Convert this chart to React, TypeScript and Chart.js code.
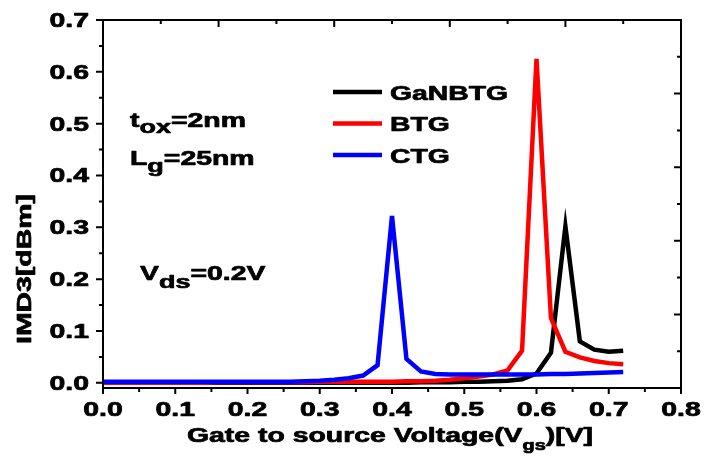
import React, { useEffect, useRef } from 'react';
import { Chart, registerables } from 'chart.js';
Chart.register(...registerables);

const voltages = [0, 0.02, 0.04, 0.06, 0.08, 0.1, 0.12, 0.14, 0.16, 0.18, 0.2, 0.22, 0.24, 0.26, 0.28, 0.3, 0.32, 0.34, 0.36, 0.38, 0.4, 0.42, 0.44, 0.46, 0.48, 0.5, 0.52, 0.54, 0.56, 0.58, 0.6, 0.62, 0.64, 0.66, 0.68, 0.7, 0.72];
const ganbtg = [0, 0, 0, 0, 0, 0, 0, 0, 0, 0, 0, 0, 0, 0, 0, 0, 0, 0, 0, 0, 0, 0, 0.001, 0.001, 0.001, 0.002, 0.002, 0.003, 0.004, 0.007, 0.018, 0.058, 0.302, 0.08, 0.064, 0.06, 0.062];
const btg = [0, 0, 0, 0, 0, 0, 0, 0, 0.001, 0.001, 0.001, 0.001, 0.001, 0.001, 0.001, 0.002, 0.002, 0.002, 0.002, 0.002, 0.002, 0.003, 0.003, 0.004, 0.006, 0.009, 0.012, 0.016, 0.024, 0.062, 0.625, 0.125, 0.06, 0.049, 0.042, 0.038, 0.036];
const ctg = [0.002, 0.002, 0.002, 0.002, 0.002, 0.002, 0.002, 0.002, 0.002, 0.002, 0.002, 0.002, 0.002, 0.002, 0.003, 0.004, 0.006, 0.009, 0.014, 0.034, 0.322, 0.046, 0.022, 0.017, 0.016, 0.016, 0.016, 0.016, 0.016, 0.016, 0.016, 0.017, 0.017, 0.018, 0.019, 0.02, 0.021];

const seriesNames = ['GaNBTG', 'BTG', 'CTG'];
const seriesColors = ['#000000', '#ff0000', '#0000ff'];
const seriesValues = [ganbtg, btg, ctg];
const seriesOrder = [2, 1, 0];

const xTickValues = [0, 0.1, 0.2, 0.3, 0.4, 0.5, 0.6, 0.7, 0.8];
const yTickValues = [0, 0.1, 0.2, 0.3, 0.4, 0.5, 0.6, 0.7];

const xTitleParts: [string, number, number][] = [['Gate to source Voltage(V', 20, 0], ['gs', 14, 8], [')[V]', 20, 0]];
const yTitle = 'IMD3[dBm]';
const noteTox: [string, number, number][] = [['t', 20, 0], ['ox', 19, 6], ['=2nm', 20, 0]];
const noteLg: [string, number, number][] = [['L', 20, 0], ['g', 19, 7], ['=25nm', 20, 0]];
const noteVds: [string, number, number][] = [['V', 20, 0], ['ds', 19, 8], ['=0.2V', 20, 0]];

const FONT = "'Liberation Sans', Arial, sans-serif";
const SX = 1.42;

function drawRich(ctx: CanvasRenderingContext2D, parts: [string, number, number][], x: number, y: number, sx: number, align: string, rot = 0) {
  ctx.save();
  ctx.translate(x, y);
  if (rot) ctx.rotate(rot);
  ctx.scale(sx, 1);
  ctx.textBaseline = 'alphabetic';
  ctx.textAlign = 'left';
  ctx.fillStyle = '#000';
  ctx.strokeStyle = '#000';
  ctx.lineWidth = 0.7;
  ctx.lineJoin = 'round';
  const widths = parts.map(([t, s]) => {
    ctx.font = `bold ${s}px ${FONT}`;
    return ctx.measureText(t).width;
  });
  const total = widths.reduce((a, b) => a + b, 0);
  let cx = align === 'center' ? -total / 2 : align === 'right' ? -total : 0;
  parts.forEach(([t, s, dy], i) => {
    ctx.font = `bold ${s}px ${FONT}`;
    ctx.fillText(t, cx, dy);
    ctx.strokeText(t, cx, dy);
    cx += widths[i];
  });
  ctx.restore();
}

const decorPlugin = {
  id: 'decor',
  afterDraw(chart: any) {
    const ctx: CanvasRenderingContext2D = chart.ctx;
    const { left, right, top, bottom } = chart.chartArea;
    const xs = chart.scales.x;
    const ys = chart.scales.y;
    ctx.save();
    ctx.strokeStyle = '#000';
    ctx.lineWidth = 2;
    ctx.strokeRect(left, top, right - left, bottom - top);
    ctx.beginPath();
    yTickValues.forEach((v, i) => {
      const py = ys.getPixelForValue(v);
      ctx.moveTo(left - 7, py); ctx.lineTo(left, py);
      if (i < yTickValues.length - 1) {
        const pm = ys.getPixelForValue(v + 0.05);
        ctx.moveTo(left - 4, pm); ctx.lineTo(left, pm);
      }
    });
    xTickValues.forEach((v, i) => {
      const px = xs.getPixelForValue(v);
      ctx.moveTo(px, bottom); ctx.lineTo(px, bottom + 6);
      if (i < xTickValues.length - 1) {
        const pm = xs.getPixelForValue(v + 0.05);
        ctx.moveTo(pm, bottom); ctx.lineTo(pm, bottom + 4);
      }
    });
    for (let k = 1; k < 10; k++) {
      const len = k % 2 === 0 ? 7 : 4;
      const px = left + (k * (right - left)) / 10;
      ctx.moveTo(px, top); ctx.lineTo(px, top + len);
      const py = bottom - (k * (bottom - top)) / 10;
      ctx.moveTo(right - len, py); ctx.lineTo(right, py);
    }
    ctx.stroke();
    ctx.restore();

    yTickValues.forEach((v) => {
      const py = ys.getPixelForValue(v);
      drawRich(ctx, [[v.toFixed(1), 20, 0]], left - 14, py + 7, SX, 'right');
    });
    xTickValues.forEach((v) => {
      const px = xs.getPixelForValue(v);
      drawRich(ctx, [[v.toFixed(1), 20, 0]], px, 416, SX, 'center');
    });
    drawRich(ctx, xTitleParts, (left + right) / 2 - 2, 442, SX, 'center');
    drawRich(ctx, [[yTitle, 20, 0]], 31, 269, SX, 'center', -Math.PI / 2);

    drawRich(ctx, noteTox, 130, 127, SX, 'left');
    drawRich(ctx, noteLg, 130, 165, SX, 'left');
    drawRich(ctx, noteVds, 140, 280, SX, 'left');

    const legendY = [92, 123.5, 155];
    seriesNames.forEach((name, i) => {
      ctx.save();
      ctx.strokeStyle = seriesColors[i];
      ctx.lineWidth = 4.5;
      ctx.beginPath();
      ctx.moveTo(333, legendY[i]);
      ctx.lineTo(382, legendY[i]);
      ctx.stroke();
      ctx.restore();
      drawRich(ctx, [[name, 21, 0]], 390, legendY[i] + 7.5, 1.35, 'left');
    });
  },
};

export default function App() {
  const ref = useRef<HTMLCanvasElement>(null);
  useEffect(() => {
    document.body.style.margin = '0';
    const canvas = ref.current!;
    const chart = new Chart(canvas, {
      type: 'line',
      data: {
        datasets: seriesNames.map((name, i) => ({
          label: name,
          data: voltages.map((v, j) => ({ x: v, y: seriesValues[i][j] })),
          borderColor: seriesColors[i],
          backgroundColor: seriesColors[i],
          borderWidth: 4.5,
          pointRadius: 0,
          tension: 0,
          fill: false,
          order: seriesOrder[i],
        })),
      },
      options: {
        responsive: false,
        animation: false,
        layout: { padding: { top: 20, right: 23, left: 0, bottom: 0 } },
        plugins: { legend: { display: false }, tooltip: { enabled: false } },
        scales: {
          x: {
            type: 'linear',
            min: 0,
            max: 0.8,
            grid: { display: false },
            border: { display: false },
            ticks: { display: false },
            afterBuildTicks: (s: any) => { s.ticks = xTickValues.map((v) => ({ value: v })); },
            afterFit: (s: any) => { s.height = 69; },
          },
          y: {
            type: 'linear',
            min: -0.01,
            max: 0.7,
            grid: { display: false },
            border: { display: false },
            ticks: { display: false },
            afterBuildTicks: (s: any) => { s.ticks = yTickValues.map((v) => ({ value: v })); },
            afterFit: (s: any) => { s.width = 103; },
          },
        },
      },
      plugins: [decorPlugin],
    } as any);
    return () => chart.destroy();
  }, []);
  return (
    <div style={{ width: 704, height: 457, background: '#fff' }}>
      <canvas ref={ref} width={704} height={457} style={{ display: 'block' }} />
    </div>
  );
}
